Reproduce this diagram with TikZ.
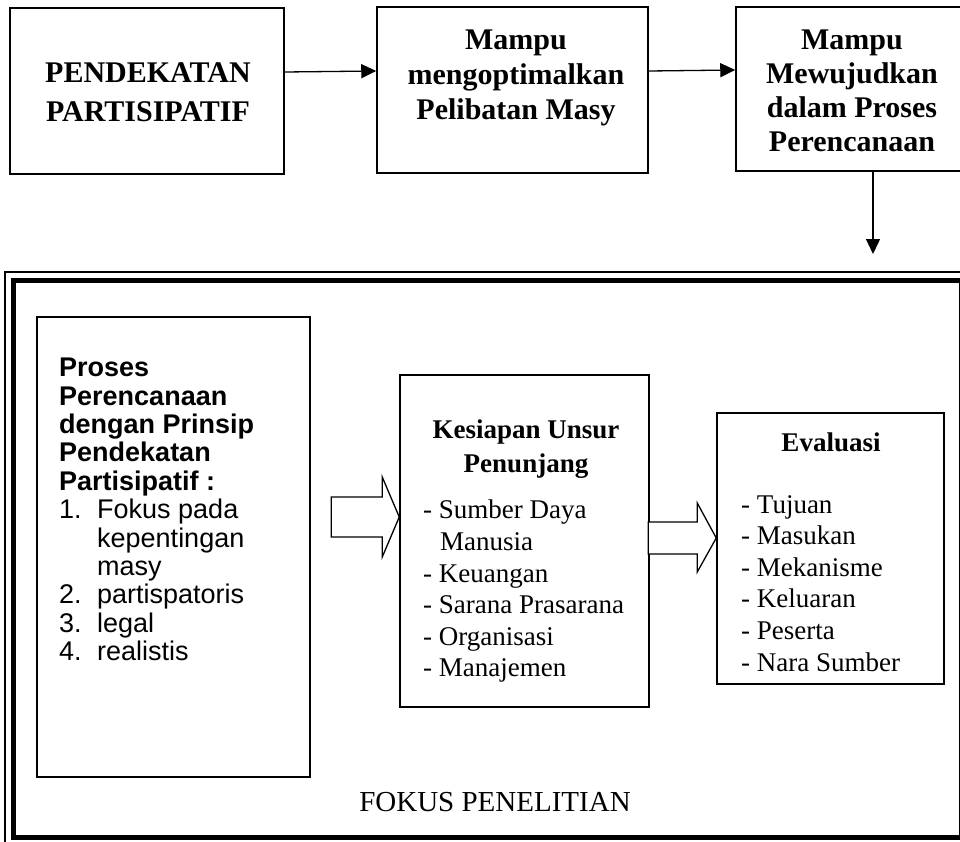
\documentclass[tikz,border=0pt]{standalone}
\usepackage{fontspec}
\setmainfont{Liberation Serif}
\newfontfamily\arial{Liberation Sans}
\usetikzlibrary{arrows.meta}
\begin{document}
\begin{tikzpicture}[x=1pt,y=-1pt,>={Triangle[length=15pt,width=14pt]},
  kotak/.style={draw,line width=1.5pt,inner sep=0pt},
  judul/.style={font=\bfseries\fontsize{30}{35}\selectfont,align=center,inner sep=0pt},
  isi/.style={font=\fontsize{27}{31.6}\selectfont,align=left,anchor=north west,inner sep=0pt},
  panahbesar/.style={draw,line width=1.3pt,fill=white,line join=miter}]
\useasboundingbox (0,0) rectangle (960,841);
% baris atas
\node[kotak,minimum width=274pt,minimum height=166pt] (A) at (147,91) {};
\node[kotak,minimum width=271pt,minimum height=166pt] (B) at (512.5,90) {};
\node[kotak,minimum width=232pt,minimum height=164pt] (C) at (852,89) {};
\node[judul] (tA) at (148,92) {PENDEKATAN\\[4pt]PARTISIPATIF};
\node[judul] (tB) at (516,78) {Mampu\\mengoptimalkan\\Pelibatan Masy};
\node[judul,font=\bfseries\fontsize{30}{34}\selectfont] (tC) at (852,91) {Mampu\\Mewujudkan\\dalam Proses\\Perencanaan};
\draw[->,line width=1.3pt] ([yshift=19pt]A.east) -- ([yshift=19pt]B.west);
\draw[->,line width=1.3pt] ([yshift=19pt]B.east) -- ([yshift=19pt]C.west);
\coordinate (ujung) at (873,254);
\draw[->,line width=1.3pt] (C.south -| ujung) -- (ujung);
% bingkai fokus
\draw[line width=1.2pt] (5,272) rectangle (980,860);
\node[draw,line width=5pt,minimum width=948pt,minimum height=557pt,inner sep=0pt] (F) at (487,558.5) {};
\node[font=\fontsize{29}{32}\selectfont,inner sep=0pt] (fokus) at (495,802) {FOKUS PENELITIAN};
% kotak proses
\node[kotak,minimum width=273pt,minimum height=460pt] (P) at (173.5,547) {};
\node[isi,font=\arial\fontsize{27}{28.4}\selectfont] (tP) at (59,358) {\textbf{Proses}\\
\textbf{Perencanaan}\\
\textbf{dengan Prinsip}\\
\textbf{Pendekatan}\\
\textbf{Partisipatif :}\\
\makebox[38pt][l]{1.}Fokus pada\\
\hspace*{38pt}kepentingan\\
\hspace*{38pt}masy\\
\makebox[38pt][l]{2.}partispatoris\\
\makebox[38pt][l]{3.}legal\\
\makebox[38pt][l]{4.}realistis};
% kesiapan
\node[kotak,minimum width=249pt,minimum height=332pt] (K) at (524.5,541) {};
\node[judul,font=\bfseries\fontsize{27}{34}\selectfont] (tK) at (526,449) {Kesiapan Unsur\\Penunjang};
\node[isi] (dK) at (423,500) {- Sumber Daya\\\hspace*{17pt}Manusia\\- Keuangan\\- Sarana Prasarana\\- Organisasi\\- Manajemen};
% evaluasi
\node[kotak,minimum width=227pt,minimum height=271pt] (E) at (830.5,548.5) {};
\node[judul,font=\bfseries\fontsize{27}{33}\selectfont] (tE) at (831,442) {Evaluasi};
\node[isi] (dE) at (741,495) {- Tujuan\\- Masukan\\- Mekanisme\\- Keluaran\\- Peserta\\- Nara Sumber};
% panah besar
\draw[panahbesar] ([yshift=24pt]K.west) -- ++(-17,-40) -- ++(0,20) -- ++(-51,0) -- ++(0,40) -- ++(51,0) -- ++(0,20) -- cycle;
\draw[panahbesar] ([yshift=10.5pt]E.west) -- ++(-19,-35) -- ++(0,19) -- ++(-49,0) -- ++(0,32) -- ++(49,0) -- ++(0,18) -- cycle;
\end{tikzpicture}
\end{document}
